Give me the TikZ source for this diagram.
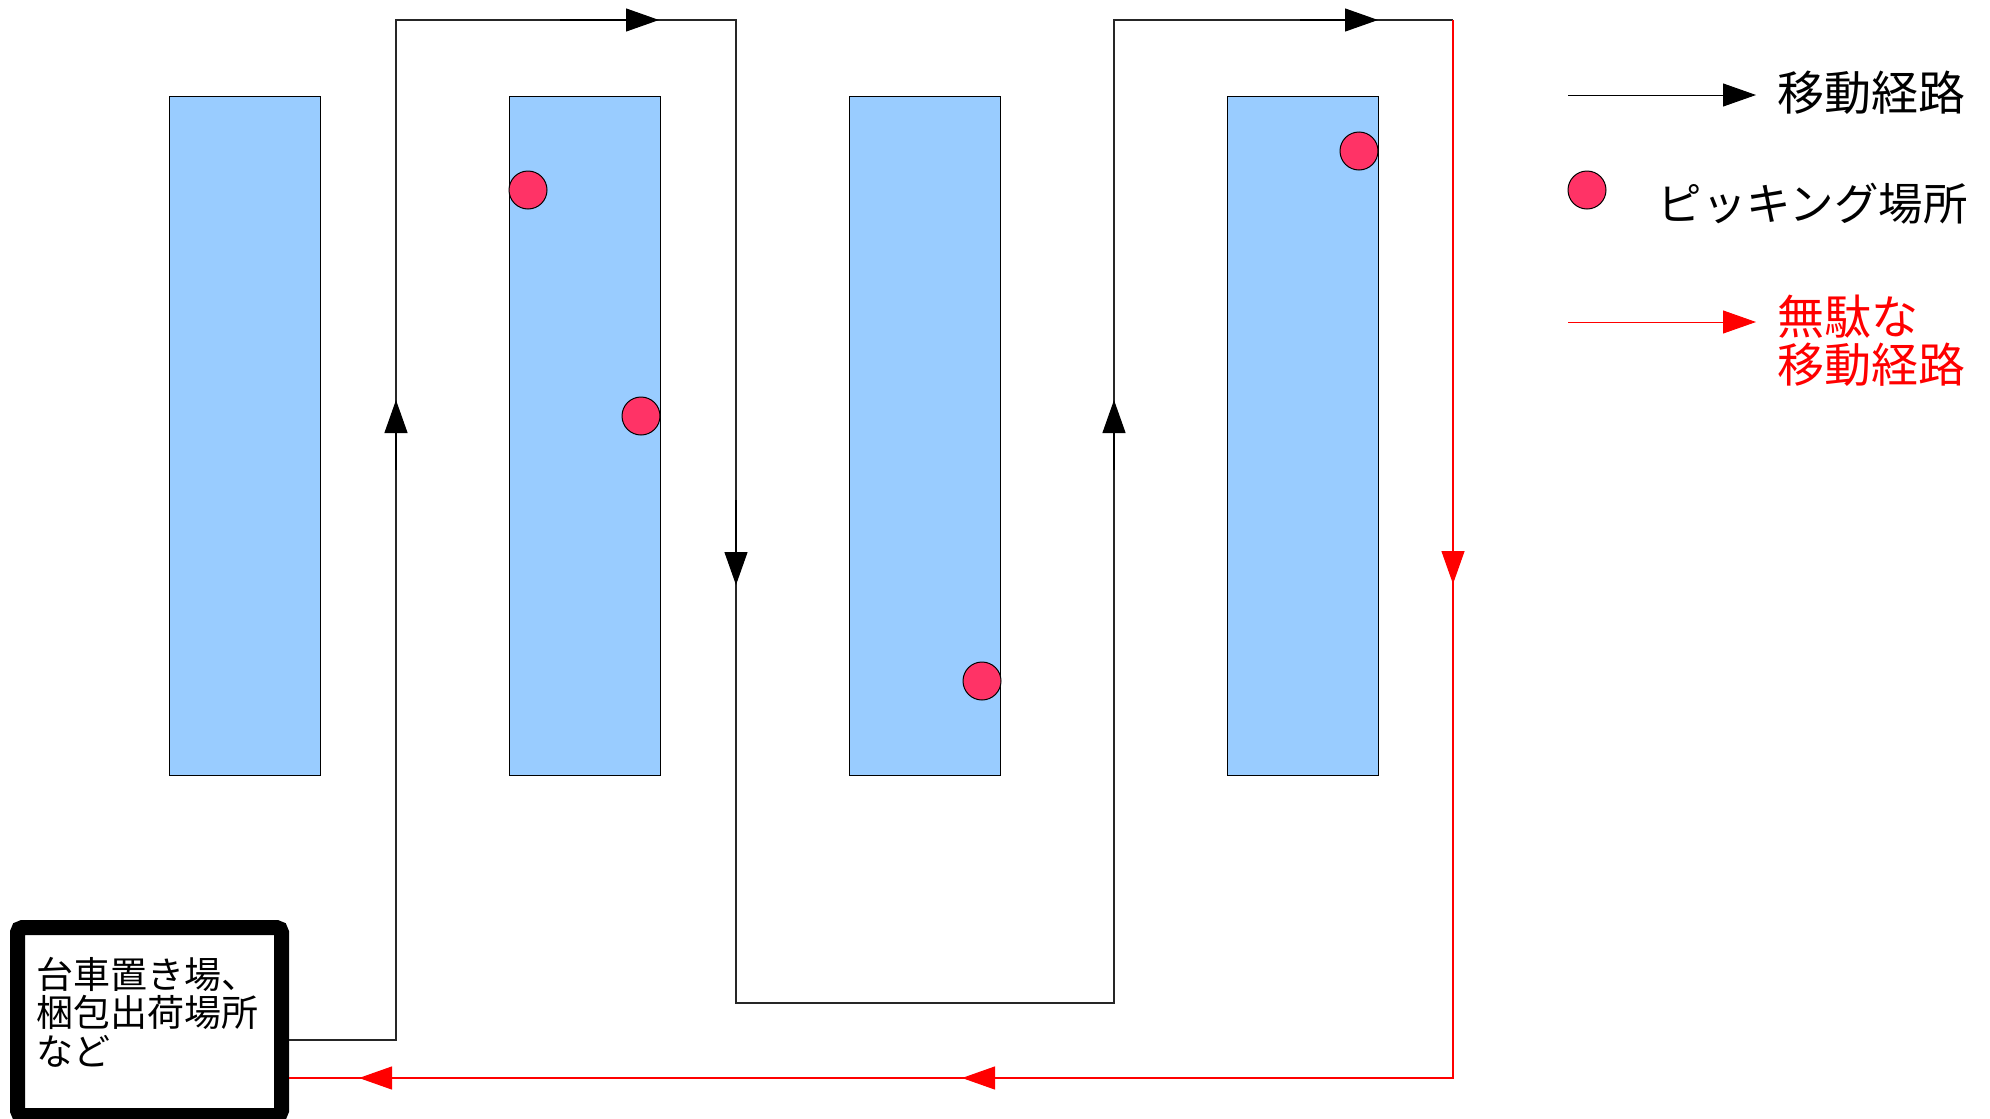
\documentclass[tikz,border=0pt]{standalone}
\usepackage{fontspec}
\newfontfamily\jp{Noto Sans CJK JP}
\usetikzlibrary{arrows.meta}
\definecolor{rackblue}{HTML}{99CCFF}
\definecolor{pickred}{HTML}{FF3366}
\definecolor{wastered}{HTML}{FF0000}
\tikzset{
  rack/.style={draw=black, line width=1pt, fill=rackblue, minimum width=151pt, minimum height=679pt, inner sep=0pt},
  pick/.style={circle, draw=black, line width=1pt, fill=pickred, minimum size=38pt, inner sep=0pt},
  pathline/.style={draw=black!85, line width=1.2pt},
  wasteline/.style={draw=wastered, line width=1.2pt},
  tipb/.style={-{Triangle[length=33pt,width=23pt]}, black, line width=1.2pt},
  tipr/.style={-{Triangle[length=33pt,width=23pt]}, wastered, line width=1.2pt},
  areabox/.style={draw=black, line width=15pt, rounded corners=5pt, fill=white, minimum width=264pt, minimum height=188pt, inner sep=0pt},
}
\begin{document}
\begin{tikzpicture}[x=1pt,y=-1pt]
\useasboundingbox (0,0) rectangle (1990,1119);
\fill[white] (0,0) rectangle (1990,1119);
% racks
\node[rack] (r1) at (244.5,435.5) {};
\node[rack] (r2) at (584.5,435.5) {};
\node[rack] (r3) at (924.5,435.5) {};
\node[rack] (r4) at (1302.5,435.5) {};
% picking spots
\node[pick] (d1) at (528,190) {};
\node[pick] (d2) at (641,416) {};
\node[pick] (d3) at (982,681) {};
\node[pick] (d4) at (1359,151) {};
% cart area box
\node[areabox] (box) at (149.5,1021.5) {};
\node[anchor=west, inner sep=0pt, align=left, font=\jp\fontsize{37}{38.5}\selectfont] (boxtext) at (36,1012) {台車置き場、\\梱包出荷場所\\など};
% path coordinates
\coordinate (ya) at (0,1040);
\coordinate (yb) at (0,1078);
\coordinate (c1) at (396,1040);
\coordinate (c2) at (396,20);
\coordinate (c3) at (736,20);
\coordinate (c4) at (736,1003);
\coordinate (c5) at (1114,1003);
\coordinate (c6) at (1114,20);
\coordinate (c7) at (1453,20);
\coordinate (c8) at (1453,1078);
\draw[pathline] (box.east |- ya) -- (c1) -- (c2) -- (c3) -- (c4) -- (c5) -- (c6) -- (c7);
\draw[wasteline] (c7) -- (c8) -- (box.east |- yb);
% arrow heads along the route
\coordinate (a1s) at (396,470); \coordinate (a1t) at (396,400);
\coordinate (a2s) at (560,20);  \coordinate (a2t) at (659,20);
\coordinate (a3s) at (736,500); \coordinate (a3t) at (736,585);
\coordinate (a4s) at (1114,470); \coordinate (a4t) at (1114,400);
\coordinate (a5s) at (1300,20); \coordinate (a5t) at (1378,20);
\coordinate (a6s) at (1453,500); \coordinate (a6t) at (1453,584);
\coordinate (a7s) at (1010,1078); \coordinate (a7t) at (962,1078);
\coordinate (a8s) at (410,1078); \coordinate (a8t) at (359,1078);
\draw[tipb] (a1s) -- (a1t);
\draw[tipb] (a2s) -- (a2t);
\draw[tipb] (a3s) -- (a3t);
\draw[tipb] (a4s) -- (a4t);
\draw[tipb] (a5s) -- (a5t);
\draw[tipr] (a6s) -- (a6t);
\draw[tipr] (a7s) -- (a7t);
\draw[tipr] (a8s) -- (a8t);
% legend
\coordinate (l1s) at (1568,95); \coordinate (l1t) at (1756,95);
\draw[tipb, line width=1pt] (l1s) -- (l1t);
\node[anchor=west, inner sep=0pt, font=\jp\fontsize{47}{48}\selectfont] (t1) at (1777,93) {移動経路};
\node[pick] (ld) at (1587,190) {};
\node[anchor=east, inner sep=0pt, font=\jp\fontsize{44.5}{45}\selectfont] (t2) at (1968,204) {ピッキング場所};
\coordinate (l3s) at (1568,322); \coordinate (l3t) at (1756,322);
\draw[tipr, line width=1pt] (l3s) -- (l3t);
\node[anchor=west, inner sep=0pt, align=left, text=wastered, font=\jp\fontsize{47}{48}\selectfont] (t3) at (1777,341) {無駄な\\移動経路};
\end{tikzpicture}
\end{document}
